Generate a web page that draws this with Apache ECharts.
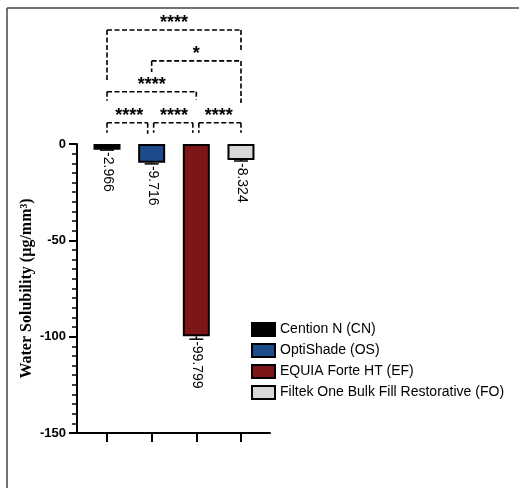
<!DOCTYPE html>
<html><head><meta charset="utf-8">
<script src="https://cdn.jsdelivr.net/npm/echarts@6/dist/echarts.min.js"></script>
<style>html,body{margin:0;padding:0;background:#fff}#c{width:519px;height:488px}</style>
</head><body><div id="c"></div>
<script>
// ---- data ----
const categories = ['Cention N (CN)', 'OptiShade (OS)', 'EQUIA Forte HT (EF)', 'Filtek One Bulk Fill Restorative (FO)'];
const positions = [1, 2, 3, 4];
const means = [-2.966, -9.716, -99.799, -8.324];
const sds = [0.2, 0.6, 1.5, 0.5];
const valueLabels = ['-2.966', '-9.716', '-99.799', '-8.324'];
const yTicks = [0, -50, -100, -150];
// comparisons: [groupA index, groupB index, significance]
const compA = [0, 1, 2, 0, 1, 0];
const compB = [1, 2, 3, 2, 3, 3];
const compSig = ['****', '****', '****', '****', '*', '****'];
const compLevel = [1, 1, 1, 2, 3, 4];

// ---- style ----
const colors = ['#000000', '#1d4a8a', '#7e1517', '#d7d7d7'];
// bracket end insets and leg drops (px)
const bracketStyle = [
  {inL: 0, inR: 4, legL: 10, legR: 11},
  {inL: 2, inR: 3.5, legL: 10, legR: 10},
  {inL: 2.5, inR: 0, legL: 10, legR: 10},
  {inL: 0, inR: 0, legL: 9, legR: 8},
  {inL: 0, inR: 0, legL: 11, legR: 42},
  {inL: 0, inR: 0, legL: 52, legR: 22}
];
const LEVEL0 = 21.3, LEVEL_STEP = 30.9;

const chart = echarts.init(document.getElementById('c'), null, {renderer: 'canvas'});

const barSeries = categories.map((name, i) => ({
  name: name,
  type: 'bar',
  barWidth: 27,
  barGap: '-100%',
  data: [[positions[i], means[i]]],
  itemStyle: {color: colors[i], borderColor: '#000', borderWidth: 2},
  z: 2
}));

const errSeries = {
  type: 'custom',
  coordinateSystem: 'cartesian2d',
  clip: false,
  silent: true,
  z: 3,
  data: positions.map((p, i) => [p, means[i], sds[i], i]),
  renderItem: function (params, api) {
    const x = api.value(0), m = api.value(1), s = api.value(2), i = api.value(3);
    const p0 = api.coord([x, m]);
    const p1 = api.coord([x, m - s]);
    return {
      type: 'group',
      children: [
        {type: 'line', shape: {x1: p0[0], y1: p0[1], x2: p1[0], y2: p1[1]}, style: {stroke: '#000', lineWidth: 1.5}},
        {type: 'line', shape: {x1: p1[0] - 7, y1: p1[1], x2: p1[0] + 7, y2: p1[1]}, style: {stroke: '#000', lineWidth: 1.5}},
        {type: 'text', x: p1[0] + 1, y: p1[1] + 2, rotation: -Math.PI / 2,
          style: {text: valueLabels[i], x: 0, y: 0, align: 'left', verticalAlign: 'middle',
            fill: '#000', font: '14px "Liberation Sans", Arial, sans-serif'}}
      ]
    };
  }
};

const bracketSeries = {
  type: 'custom',
  coordinateSystem: 'cartesian2d',
  clip: false,
  silent: true,
  z: 4,
  data: compA.map((a, i) => [positions[a], positions[compB[i]], compLevel[i], i]),
  renderItem: function (params, api) {
    const xa = api.value(0), xb = api.value(1), lvl = api.value(2), i = api.value(3);
    const st = bracketStyle[i];
    const pa = api.coord([xa, 0]);
    const pb = api.coord([xb, 0]);
    const y = pa[1] - LEVEL0 - LEVEL_STEP * (lvl - 1);
    const x1 = pa[0] + st.inL, x2 = pb[0] - st.inR;
    const ls = {stroke: '#000', lineWidth: 1.6, lineDash: [5, 2.5]};
    return {
      type: 'group',
      children: [
        {type: 'line', shape: {x1: x1, y1: y, x2: x2, y2: y}, style: ls},
        {type: 'line', shape: {x1: x1, y1: y, x2: x1, y2: y + st.legL}, style: ls},
        {type: 'line', shape: {x1: x2, y1: y, x2: x2, y2: y + st.legR}, style: ls},
        {type: 'text', x: (pa[0] + pb[0]) / 2, y: y + 2,
          style: {text: compSig[i], align: 'center', verticalAlign: 'bottom', fill: '#000',
            font: 'bold 18px "Liberation Sans", Arial, sans-serif'}}
      ]
    };
  }
};

chart.setOption({
  animation: false,
  backgroundColor: '#fff',
  textStyle: {fontFamily: '"Liberation Sans", Arial, sans-serif'},
  grid: {left: 77, right: 249, top: 144, bottom: 55},
  xAxis: {
    type: 'value', min: 0.328, max: 4.65,
    axisLine: {show: true, onZero: false, lineStyle: {color: '#000', width: 2}},
    axisTick: {show: true, customValues: positions, length: 9, lineStyle: {color: '#000', width: 2}},
    axisLabel: {show: false},
    splitLine: {show: false}
  },
  yAxis: {
    type: 'value', min: -150, max: 0, interval: 50,
    name: 'Water Solubility (µg/mm³)',
    nameLocation: 'middle', nameRotate: 90, nameGap: 42,
    nameTextStyle: {fontFamily: '"Liberation Serif", "Times New Roman", serif', fontWeight: 'bold', fontSize: 16, color: '#000'},
    axisLine: {show: true, lineStyle: {color: '#000', width: 2}},
    axisTick: {show: true, length: 8, lineStyle: {color: '#000', width: 2}},
    minorTick: {show: true, splitNumber: 10, length: 5, lineStyle: {color: '#000', width: 1.5}},
    axisLabel: {margin: 11, fontWeight: 'bold', fontSize: 13, color: '#000',
      formatter: v => (yTicks.indexOf(v) >= 0 ? String(v) : '')},
    splitLine: {show: false}
  },
  legend: {
    orient: 'vertical', left: 246, top: 317,
    itemWidth: 23, itemHeight: 13, itemGap: 6,
    icon: 'rect',
    textStyle: {fontSize: 14, color: '#000', fontFamily: '"Liberation Sans", Arial, sans-serif'},
    data: categories
  },
  graphic: [
    {type: 'line', shape: {x1: 7, y1: 8, x2: 519, y2: 8}, style: {stroke: '#444', lineWidth: 1.5}, silent: true},
    {type: 'line', shape: {x1: 7, y1: 8, x2: 7, y2: 488}, style: {stroke: '#444', lineWidth: 1.5}, silent: true}
  ],
  series: barSeries.concat([errSeries, bracketSeries])
});
</script>
</body></html>
